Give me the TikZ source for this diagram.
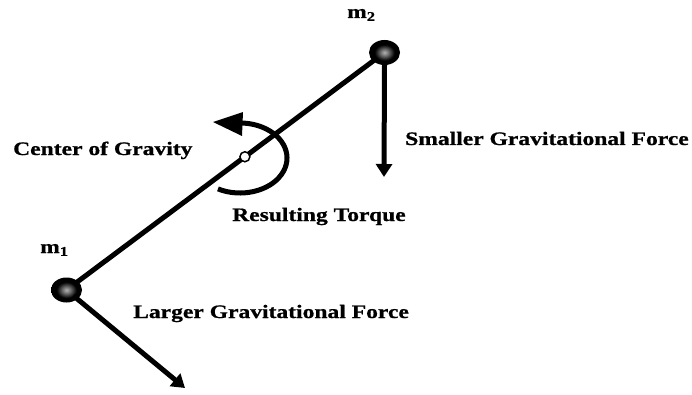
\documentclass[tikz,border=0pt]{standalone}
\usepackage{fontspec}
\setmainfont{Liberation Serif}[FakeStretch=1.24,BoldFeatures={FakeBold=0.8}]
\usetikzlibrary{arrows.meta,calc,shapes.geometric}
\pgfdeclareradialshading{ballshade}{\pgfpoint{0bp}{0bp}}{color(0bp)=(black!30); color(6bp)=(black!55); color(16bp)=(black); color(50bp)=(black)}
\tikzset{
  lbl/.style={anchor=base west,inner sep=0pt,font=\fontsize{19}{22}\selectfont\bfseries},
  ball/.style={ellipse,minimum width=31pt,minimum height=25pt,inner sep=0pt,shading=ballshade},
  rod/.style={line width=5pt},
  force/.style={line width=5pt,-{Triangle[length=13pt,width=16pt]}},
}
\begin{document}
\begin{tikzpicture}[x=1pt,y=1pt]
\useasboundingbox (0,0) rectangle (692,394);
% masses
\coordinate (p1) at (66.5,104);
\coordinate (p2) at (384.5,341.5);
\draw[rod] (p1) -- (p2);
\node[ball] (m1) at (p1) {};
\node[ball] (m2) at (p2) {};
% forces
\coordinate (t2) at (384,217);
\coordinate (t1) at (185,6);
\draw[force] (m2.center) ++(0,-12) coordinate (s2) (s2) -- (t2);
\draw[force] ($(p1)!9pt!(t1)$) coordinate (s1) (s1) -- (t1);
% torque
\coordinate (tc) at (240,236);
\draw[line width=5pt] ($(tc)+(-118:47pt and 35pt)$) coordinate (a0)
  arc[start angle=-118,end angle=92,x radius=47,y radius=35] coordinate (a1);
\coordinate (ht) at (213,272);
\coordinate (hu) at (243,282);
\coordinate (hd) at (242,258);
\fill (ht) -- (hu) -- (hd) -- cycle;
% center of gravity
\node[circle,draw,line width=1.5pt,fill=white,minimum size=10pt,inner sep=0pt] (cog) at ($(p1)!0.561!(p2)$) {};
% labels
\node[lbl] (l2) at (347,376) {m\textsubscript{2}};
\node[lbl] (l1) at (40,141) {m\textsubscript{1}};
\node[lbl] (lc) at (13,239) {Center of Gravity};
\node[lbl] (ls) at (405,249) {Smaller Gravitational Force};
\node[lbl] (lr) at (232,173) {Resulting Torque};
\node[lbl] (ll) at (133,76) {Larger Gravitational Force};
\end{tikzpicture}
\end{document}
